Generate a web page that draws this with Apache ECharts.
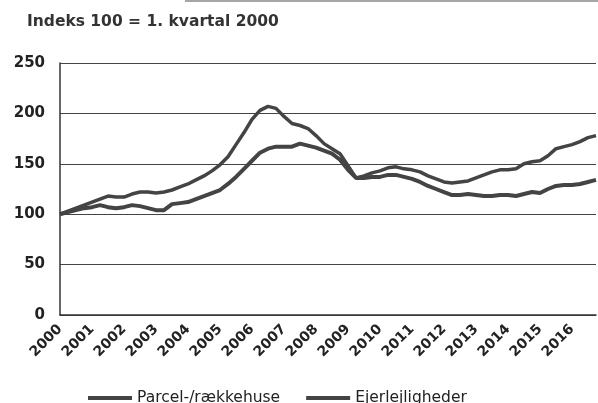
<!DOCTYPE html>
<html>
<head>
<meta charset="utf-8">
<script src="https://cdn.jsdelivr.net/npm/echarts@6/dist/echarts.min.js"></script>
<style>
  html, body { margin: 0; padding: 0; background: #fff; }
  #main { width: 598px; height: 403px; }
</style>
</head>
<body>
<div id="main"></div>
<script>
// kvartaler fra 2000K1 til 2016K4
const years = ['2000','2001','2002','2003','2004','2005','2006','2007','2008',
  '2009','2010','2011','2012','2013','2014','2015','2016'];
const quarters = [];
years.forEach(y => { ['K1','K2','K3','K4'].forEach(k => quarters.push(y + k)); });

const yTicks = [0, 50, 100, 150, 200, 250];

// Parcel-/rækkehuse (nederste kurve)
const parcel = [
  100, 102, 104, 106, 107, 109, 107, 106, 107, 109, 108, 106,
  104, 104, 110, 111, 112, 115, 118, 121, 124, 130, 137, 145,
  153, 161, 165, 167, 167, 167, 170, 168, 166, 163, 160, 154,
  144, 136, 136, 137, 137, 139, 139, 137, 135, 132, 128, 125,
  122, 119, 119, 120, 119, 118, 118, 119, 119, 118, 120, 122,
  121, 125, 128, 129, 129, 130, 132, 134
];

// Ejerlejligheder (øverste kurve)
const ejer = [
  100, 103, 106, 109, 112, 115, 118, 117, 117, 120, 122, 122,
  121, 122, 124, 127, 130, 134, 138, 143, 149, 157, 169, 181,
  194, 203, 207, 205, 197, 190, 188, 185, 178, 170, 165, 160,
  148, 136, 138, 141, 143, 146, 147, 145, 144, 142, 138, 135,
  132, 131, 132, 133, 136, 139, 142, 144, 144, 145, 150, 152,
  153, 158, 165, 167, 169, 172, 176, 178
];

let myChart = echarts.init(document.getElementById('main'));

let option = {
  animation: false,
  textStyle: { fontFamily: 'DejaVu Sans' },
  title: {
    text: 'Indeks 100 = 1. kvartal 2000',
    left: 27,
    top: 14,
    padding: 0,
    textStyle: { fontSize: 15.5, fontWeight: 'bold', color: '#333', fontFamily: 'DejaVu Sans' }
  },
  legend: {
    left: 88,
    top: 390,
    padding: 0,
    itemGap: 26,
    itemWidth: 44,
    itemHeight: 4,
    icon: 'rect',
    textStyle: { fontSize: 15.5, color: '#222', fontFamily: 'DejaVu Sans' },
    data: ['Parcel-/rækkehuse', 'Ejerlejligheder']
  },
  grid: { left: 60, right: 2, top: 63, bottom: 88 },
  xAxis: {
    type: 'category',
    data: quarters,
    boundaryGap: false,
    axisLine: { lineStyle: { color: '#333', width: 1.5 } },
    axisTick: { show: false },
    axisLabel: {
      interval: 3,
      rotate: 45,
      margin: 12,
      fontSize: 14,
      fontWeight: 'bold',
      color: '#222',
      formatter: v => v.slice(0, 4)
    }
  },
  yAxis: {
    type: 'value',
    min: yTicks[0],
    max: yTicks[yTicks.length - 1],
    interval: 50,
    axisLine: { show: true, lineStyle: { color: '#333', width: 1.5 } },
    axisTick: { show: false },
    axisLabel: { fontSize: 15, fontWeight: 'bold', color: '#222', margin: 15 },
    splitLine: { lineStyle: { color: '#444', width: 1.2 } }
  },
  series: [
    {
      name: 'Parcel-/rækkehuse',
      type: 'line',
      data: parcel,
      showSymbol: false,
      lineStyle: { color: '#444', width: 4 },
      itemStyle: { color: '#444' }
    },
    {
      name: 'Ejerlejligheder',
      type: 'line',
      data: ejer,
      showSymbol: false,
      lineStyle: { color: '#444', width: 3.5 },
      itemStyle: { color: '#444' }
    }
  ],
  graphic: [
    {
      type: 'line',
      shape: { x1: 185, y1: 1, x2: 598, y2: 1 },
      style: { stroke: '#888', lineWidth: 1.5 }
    }
  ]
};

myChart.setOption(option);
</script>
</body>
</html>
